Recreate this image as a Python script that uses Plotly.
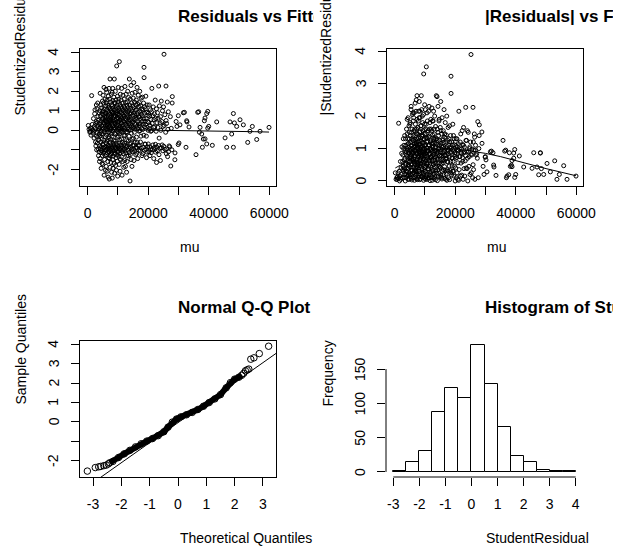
import plotly.graph_objects as go

# layout is expressed in reference-picture pixels (627 x 549); the page is laid out a bit wider
# because the captured page is squeezed horizontally to 627 px.
REF_W, H = 627, 549
CSS_W = 640
FONT = "Liberation Sans, Arial, Helvetica, sans-serif"

# ---------------- data ----------------
# fitted values (mu) and studentized residuals, grouped by mu band
fitted_mu = [
    200, 450, 700, 900, 1300, 1100, 1500, 1700, 1900, 2100, 2300, 2500, 2600, 2800, 2900, 1600, 2200, 2700, 2400, 2950, 800, 1250, 2050, 2650, 2850,
    3050, 3820, 3400, 3610, 3150, 3930, 3280, 3700, 3500, 3090, 3860, 3350, 3640, 3200, 3980, 3450, 3730, 3560, 3900, 3300,
    4120, 4870, 4350, 4600, 4050, 4780, 4230, 4950, 4480, 4310, 4690, 4150, 4820, 4400, 4560, 4010, 4740, 4270, 4910, 4530, 4190, 4650, 4380, 4860, 4090, 4720, 4440, 4980,
    5390, 5080, 5720, 5210, 5950, 5460, 5130, 5840, 5300, 5610, 5020, 5770, 5250, 5530, 5890, 5170, 5680, 5400, 5060, 5810, 5350, 5990, 5120, 5640, 5270, 5930, 5480, 5190, 5750, 5570, 5030, 5860, 5420, 5700,
    6270, 6050, 6830, 6400, 6120, 6690, 6950, 6330, 6560, 6010, 6780, 6210, 6480, 6900, 6150, 6620, 6370, 6860, 6090, 6530, 6740, 6250, 6990, 6440, 6180, 6710, 6300, 6580, 6030, 6800, 6460, 6230, 6920, 6650, 6110, 6390, 6760, 6500,
    7370, 7050, 7810, 7220, 7600, 7930, 7140, 7480, 7700, 7010, 7290, 7880, 7550, 7180, 7650, 7420, 7990, 7090, 7340, 7760, 7510, 7240, 7860, 7030, 7590, 7410, 7720, 7160, 7950, 7310, 7630, 7070, 7840, 7460, 7200, 7680, 7380, 7900, 7120, 7540,
    8790, 8260, 8050, 8610, 8330, 8920, 8140, 8470, 8700, 8010, 8380, 8850, 8560, 8200, 8660, 8420, 8980, 8090, 8310, 8750, 8520, 8230, 8880, 8030, 8590, 8400, 8720, 8170, 8950, 8290, 8630, 8070, 8820, 8450, 8250, 8680, 8350, 8900, 8110, 8540,
    9580, 9120, 9850, 9300, 9040, 9710, 9450, 9190, 9930, 9360, 9620, 9080, 9770, 9510, 9250, 9890, 9020, 9420, 9680, 9160, 9540, 9990, 9280, 9740, 9060, 9470, 9820, 9210, 9600, 9340, 9950, 9100, 9660, 9390, 9800, 9230, 9500, 9900,
    10450, 10120, 10800, 10300, 10050, 10650, 10950, 10220, 10500, 10760, 10080, 10380, 10880, 10160, 10590, 10330, 10990, 10020, 10700, 10420, 10250, 10850, 10540, 10100, 10620, 10360, 10910, 10190, 10480, 10730, 10060, 10560, 10280, 10830, 10400, 10680,
    11200, 11650, 11050, 11480, 11900, 11300, 11750, 11120, 11560, 11980, 11380, 11020, 11820, 11250, 11600, 11430, 11070, 11700, 11340, 11950, 11180, 11520, 11860, 11280, 11040, 11630, 11410, 11780, 11150, 11540, 11920, 11360,
    12300, 12700, 12050, 12500, 12900, 12150, 12600, 12380, 12820, 12020, 12450, 12750, 12230, 12550, 12960, 12100, 12400, 12680, 12270, 12880, 12180, 12520, 12790, 12070, 12340, 12620, 12930, 12200, 12480, 12840,
    13750, 13200, 13500, 13050, 13880, 13350, 13620, 13150, 13950, 13420, 13280, 13700, 13080, 13560, 13820, 13240, 13480, 13010, 13660, 13380, 13910, 13120, 13580, 13300, 13780, 13450, 13030, 13980,
    14300, 14700, 14050, 14500, 14900, 14150, 14600, 14380, 14820, 14020, 14450, 14750, 14230, 14550, 14960, 14100, 14400, 14680, 14270, 14880, 14180, 14520, 14790, 14070, 14340, 14620,
    15200, 15650, 15050, 15480, 15900, 15300, 15750, 15120, 15560, 15980, 15380, 15020, 15820, 15250, 15600, 15430, 15070, 15700, 15340, 15950, 15180, 15520, 15860, 15280,
    16300, 16700, 16050, 16500, 16900, 16150, 16600, 16380, 16820, 16020, 16450, 16750, 16230, 16550, 16960, 16100, 16400, 16680, 16270, 16880, 16180, 16520,
    17200, 17650, 17050, 17480, 17900, 17300, 17750, 17120, 17560, 17980, 17380, 17020, 17820, 17250, 17600, 17430, 17070, 17700, 17340, 17950,
    18600, 18620, 18100, 18450, 18850, 18250, 18700, 18050, 18500, 18950, 18350, 18800, 18150, 18550, 18900, 18300, 18750, 18200,
    19200, 19650, 19050, 19480, 19900, 19300, 19750, 19120, 19560, 19980, 19380, 19020, 19820, 19250, 19600, 19430,
    20300, 20700, 20050, 20500, 20900, 20150, 20600, 20380, 20820, 20020, 20450, 20750, 20230, 20550,
    21200, 21650, 21050, 21480, 21900, 21300, 21750, 21120, 21560, 21980, 21380, 21020, 21820,
    22300, 22700, 22050, 22500, 22900, 22150, 22600, 22380, 22820, 22020, 22450, 22750,
    23460, 23700, 23050, 23300, 23900, 23150, 23600, 23380, 23820, 23020, 23550,
    24300, 24700, 24050, 24500, 24900, 24150, 24600, 24380, 24820, 24020,
    25210, 25870, 25050, 25480, 25900, 25300, 25750, 25120, 25560, 25980,
    26640, 26300, 26050, 26500, 26900, 26150, 26700, 26400,
    27950, 27900, 27300, 27600, 27100, 27800, 27450,
    28840, 28800, 29930, 29900, 30160, 29200, 29500,
    30480, 31950, 31600, 32690, 32800, 33470, 32470, 35780, 36340, 36670,
    37120, 37670, 37890, 38540, 38760, 38760, 39320, 39320, 39650, 39650,
    39980, 41170, 42620, 45380, 45930, 47020, 47570, 48130, 48130, 48460,
    49220, 50320, 51420, 52860, 53600, 54390, 55830, 56930, 59900, 36900,
    38200,
]
student_resid = [
    0.25, 0.05, -0.1, 0.12, 1.78, -0.25, 0.3, -0.15, 0.6, -0.4, 0.85, 0.1, -0.6, 0.45, -0.3, 0.0, 0.2, -0.8, 1.05, -1.0, -0.05, 0.08, -0.05, 0.35, 1.3,
    1.1, 0.9, 0.7, 0.55, 0.4, 0.3, 0.2, 0.1, 0.0, -0.1, -0.2, -0.35, -0.5, -0.65, -0.8, -0.95, -1.1, -1.3, -1.6, 1.4,
    1.9, 1.5, 1.3, 1.15, 1.0, 0.85, 0.75, 0.6, 0.5, 0.38, 0.25, 0.15, 0.05, -0.05, -0.18, -0.3, -0.45, -0.6, -0.72, -0.85, -0.95, -1.05, -1.15, -1.3, -1.45, -1.7, -1.95, 0.95,
    2.2, 1.8, 1.6, 1.4, 1.25, 1.1, 1.0, 0.9, 0.8, 0.7, 0.6, 0.5, 0.42, 0.33, 0.22, 0.12, 0.03, -0.08, -0.2, -0.33, -0.5, -0.62, -0.75, -0.85, -0.92, -1.0, -1.08, -1.18, -1.3, -1.5, -1.75, -2.05, -2.3, 0.65,
    1.95, 2.1, 1.75, 1.55, 1.4, 1.28, 1.15, 1.05, 0.95, 0.85, 0.76, 0.68, 0.6, 0.5, 0.42, 0.35, 0.26, 0.18, 0.1, 0.02, -0.1, -0.25, -0.4, -0.55, -0.68, -0.78, -0.86, -0.93, -1.0, -1.07, -1.15, -1.25, -1.4, -1.6, -1.85, -2.1, -2.4, 0.3,
    2.63, 2.15, 1.85, 1.6, 1.45, 1.32, 1.2, 1.1, 1.0, 0.92, 0.84, 0.75, 0.67, 0.58, 0.5, 0.43, 0.36, 0.28, 0.2, 0.12, 0.04, -0.06, -0.18, -0.32, -0.47, -0.62, -0.74, -0.83, -0.9, -0.97, -1.04, -1.12, -1.2, -1.3, -1.45, -1.65, -1.9, -2.15, -2.5, 0.55,
    2.63, 2.15, 1.95, 1.7, 1.52, 1.38, 1.25, 1.13, 1.03, 0.94, 0.86, 0.78, 0.7, 0.62, 0.54, 0.46, 0.38, 0.3, 0.22, 0.14, 0.06, -0.04, -0.15, -0.3, -0.52, -0.66, -0.76, -0.84, -0.91, -0.98, -1.05, -1.13, -1.22, -1.33, -1.5, -1.7, -1.95, -2.2, -2.45, 0.9,
    3.3, 2.0, 1.75, 1.55, 1.42, 1.3, 1.18, 1.08, 0.98, 0.9, 0.82, 0.74, 0.66, 0.58, 0.5, 0.42, 0.34, 0.26, 0.18, 0.1, 0.02, -0.08, -0.2, -0.35, -0.55, -0.68, -0.78, -0.86, -0.93, -1.0, -1.08, -1.17, -1.27, -1.4, -1.58, -1.8, -2.05, -2.35,
    3.52, 2.2, 1.85, 1.6, 1.45, 1.33, 1.22, 1.12, 1.02, 0.93, 0.85, 0.77, 0.69, 0.61, 0.53, 0.45, 0.37, 0.29, 0.21, 0.13, 0.05, -0.05, -0.17, -0.3, -0.5, -0.65, -0.76, -0.85, -0.93, -1.01, -1.1, -1.2, -1.33, -1.5, -1.75, -2.1,
    2.15, 1.8, 1.55, 1.38, 1.24, 1.12, 1.01, 0.91, 0.82, 0.73, 0.64, 0.55, 0.46, 0.37, 0.28, 0.19, 0.1, 0.01, -0.1, -0.25, -0.45, -0.62, -0.74, -0.84, -0.92, -1.0, -1.09, -1.2, -1.35, -1.6, -1.9, -2.3,
    2.25, 1.85, 1.6, 1.42, 1.28, 1.15, 1.03, 0.92, 0.82, 0.72, 0.62, 0.52, 0.42, 0.32, 0.22, 0.12, 0.02, -0.1, -0.28, -0.5, -0.66, -0.78, -0.88, -0.97, -1.06, -1.17, -1.32, -1.55, -1.85, -2.15,
    2.63, 2.0, 1.68, 1.45, 1.3, 1.17, 1.05, 0.94, 0.84, 0.74, 0.64, 0.54, 0.44, 0.34, 0.24, 0.14, 0.04, -0.08, -0.3, -0.55, -0.7, -0.82, -0.92, -1.02, -1.14, -1.3, -1.6, -2.6,
    2.3, 1.9, 1.6, 1.4, 1.25, 1.12, 1.0, 0.89, 0.78, 0.67, 0.56, 0.45, 0.34, 0.23, 0.12, 0.01, -0.15, -0.45, -0.65, -0.78, -0.88, -0.98, -1.1, -1.25, -1.5, -1.85,
    2.45, 1.95, 1.65, 1.45, 1.3, 1.16, 1.03, 0.9, 0.78, 0.66, 0.54, 0.42, 0.3, 0.18, 0.06, -0.1, -0.4, -0.62, -0.76, -0.87, -0.97, -1.08, -1.25, -1.55,
    2.2, 1.8, 1.55, 1.35, 1.2, 1.06, 0.93, 0.8, 0.68, 0.56, 0.44, 0.32, 0.2, 0.08, -0.05, -0.35, -0.62, -0.78, -0.9, -1.02, -1.18, -1.45,
    2.0, 1.65, 1.42, 1.25, 1.1, 0.96, 0.83, 0.7, 0.58, 0.46, 0.34, 0.22, 0.1, -0.02, -0.3, -0.6, -0.78, -0.92, -1.06, -1.3,
    3.23, 2.7, 1.7, 1.4, 1.2, 1.03, 0.88, 0.74, 0.6, 0.46, 0.32, 0.18, 0.04, -0.25, -0.7, -0.88, -1.02, -1.2,
    1.75, 1.3, 1.1, 0.92, 0.76, 0.6, 0.45, 0.3, 0.15, 0.0, -0.3, -0.72, -0.86, -0.98, -1.12, -1.4,
    1.3, 1.05, 0.88, 0.72, 0.56, 0.4, 0.25, 0.1, -0.05, -0.7, -0.85, -0.97, -1.1, -1.3,
    2.15, 1.2, 0.95, 0.75, 0.55, 0.35, 0.15, -0.02, -0.75, -0.88, -1.0, -1.15, -1.45,
    1.55, 1.1, 0.85, 0.6, 0.38, 0.18, -0.05, -0.72, -0.86, -0.98, -1.12, -1.65,
    2.27, 1.25, 0.9, 0.62, 0.38, 0.15, -0.4, -0.78, -0.92, -1.05, -1.25,
    1.5, 1.0, 0.7, 0.45, 0.2, 0.0, -0.75, -0.9, -1.05, -1.55,
    3.9, 2.27, 1.2, 0.8, 0.5, 0.25, -0.1, -0.82, -0.98, -1.2,
    0.95, 1.45, 0.35, 0.05, -0.8, -0.95, -1.1, -1.35,
    1.73, 1.4, 0.7, 0.1, -0.85, -1.0, -1.83,
    -1.16, -1.51, 0.75, -0.73, -0.65, 0.45, 0.2,
    0.28, 0.92, 0.9, 0.49, 0.43, 0.17, -0.87, -1.25, 0.92, 0.95,
    0.15, -0.19, -0.87, 0.49, 0.63, -0.44, 0.86, -0.70, 0.97, 0.11,
    0.2, -0.77, 0.43, -0.39, -0.87, 0.43, -0.19, 0.86, -0.87, 0.38,
    0.2, 0.54, 0.28, -0.62, -0.05, 0.2, -0.47, -0.05, 0.15, -0.1,
    -0.45,
]
assert len(fitted_mu) == len(student_resid)

# smoother through residuals vs fitted
lowess_mu = [200, 5000, 10000, 15000, 20000, 25000, 30000, 35000, 40000, 45000, 50000, 55000, 59900]
lowess_resid = [0.0, 0.02, 0.03, 0.02, 0.01, 0.01, 0.01, 0.0, -0.01, -0.03, -0.05, -0.07, -0.09]
# smoother through |residuals| vs fitted
lowess_abs_mu = [200, 3000, 6000, 9000, 12000, 15000, 18000, 21000, 25000, 30000, 35000, 40000, 45000, 50000, 55000, 59900]
lowess_abs_resid = [0.4, 0.55, 0.7, 0.82, 0.92, 0.98, 1.0, 0.98, 0.93, 0.85, 0.75, 0.62, 0.5, 0.38, 0.27, 0.16]

# normal Q-Q plot
qq_low_theoretical = [-3.2, -2.92, -2.8, -2.73, -2.62, -2.53, -2.46]
qq_low_sample = [-2.55, -2.37, -2.33, -2.31, -2.27, -2.24, -2.18]
qq_body_theoretical = [-2.41, -2.3, -2.1, -1.9, -1.7, -1.5, -1.3, -1.1, -0.9, -0.7, -0.5, -0.35, -0.2, -0.05, 0.1,
                       0.3, 0.5, 0.7, 0.9, 1.1, 1.3, 1.5, 1.7, 1.85, 2.0, 2.15, 2.25]
qq_body_sample = [-2.12, -2.05, -1.85, -1.66, -1.48, -1.3, -1.14, -1.0, -0.87, -0.72, -0.52, -0.28, -0.02, 0.14, 0.25,
                  0.36, 0.48, 0.63, 0.8, 0.99, 1.18, 1.4, 1.75, 2.02, 2.2, 2.3, 2.4]
qq_high_theoretical = [2.32, 2.38, 2.44, 2.5, 2.57, 2.68, 2.87, 3.2]
qq_high_sample = [2.5, 2.63, 2.68, 2.72, 3.23, 3.3, 3.52, 3.9]
qq_line_intercept = -0.05
qq_line_slope = 1.034

# histogram of studentized residuals
hist_breaks = [-3.0, -2.5, -2.0, -1.5, -1.0, -0.5, 0.0, 0.5, 1.0, 1.5, 2.0, 2.5, 3.0, 3.5, 4.0]
hist_counts = [1, 14, 31, 88, 122, 108, 185, 128, 66, 23, 14, 3, 2, 2]

# tick labels
mu_ticks = [0, 10000, 20000, 30000, 40000, 50000, 60000]
mu_ticktext = ["0", "", "20000", "", "40000", "", "60000"]
resid_ticks = [-2, -1, 0, 1, 2, 3, 4]
resid_ticktext = ["-2", "", "0", "1", "2", "3", "4"]
abs_ticks = [0, 1, 2, 3, 4]
abs_ticktext = ["0", "1", "2", "3", "4"]
theo_ticks = [-3, -2, -1, 0, 1, 2, 3]
theo_ticktext = ["-3", "-2", "-1", "0", "1", "2", "3"]
hist_xticks = [-3, -2, -1, 0, 1, 2, 3, 4]
hist_xticktext = ["-3", "-2", "-1", "0", "1", "2", "3", "4"]
freq_ticks = [0, 50, 100, 150]
freq_ticktext = ["0", "50", "100", "150"]


# ---------------- figure ----------------
def fx(p):
    return p / REF_W


def fy(p):
    return 1 - p / H


pt_marker = dict(symbol="circle-open", size=4, color="black", line=dict(width=1, color="black"))
qq_marker = dict(symbol="circle-open", size=6.5, color="black", line=dict(width=1, color="black"))
thin = dict(color="black", width=1)
title_font = dict(family=FONT, size=17, color="black", weight="bold")

fig = go.Figure()

# Panel 1: residuals vs fitted
fig.add_trace(go.Scatter(x=fitted_mu, y=student_resid, mode="markers", marker=pt_marker,
                         xaxis="x", yaxis="y", hoverinfo="skip"))
fig.add_trace(go.Scatter(x=lowess_mu, y=lowess_resid, mode="lines", line=thin,
                         xaxis="x", yaxis="y", hoverinfo="skip"))

# Panel 2: |residuals| vs fitted
abs_resid = [abs(v) for v in student_resid]
fig.add_trace(go.Scatter(x=fitted_mu, y=abs_resid, mode="markers", marker=pt_marker,
                         xaxis="x2", yaxis="y2", hoverinfo="skip"))
fig.add_trace(go.Scatter(x=lowess_abs_mu, y=lowess_abs_resid, mode="lines", line=thin,
                         xaxis="x2", yaxis="y2", hoverinfo="skip"))

# Panel 3: normal Q-Q
QQ_XR = [-3.46, 3.46]
fig.add_trace(go.Scatter(x=qq_body_theoretical, y=qq_body_sample, mode="lines",
                         line=dict(color="black", width=6), xaxis="x3", yaxis="y3", hoverinfo="skip"))
fig.add_trace(go.Scatter(x=qq_low_theoretical + qq_body_theoretical + qq_high_theoretical,
                         y=qq_low_sample + qq_body_sample + qq_high_sample,
                         mode="markers", marker=qq_marker, xaxis="x3", yaxis="y3", hoverinfo="skip"))
fig.add_trace(go.Scatter(x=QQ_XR, y=[qq_line_intercept + qq_line_slope * v for v in QQ_XR],
                         mode="lines", line=thin, xaxis="x3", yaxis="y3", hoverinfo="skip"))

# Panel 4: histogram
centers = [(a + b) / 2 for a, b in zip(hist_breaks[:-1], hist_breaks[1:])]
widths = [b - a for a, b in zip(hist_breaks[:-1], hist_breaks[1:])]
fig.add_trace(go.Bar(x=centers, y=hist_counts, width=widths,
                     marker=dict(color="white", line=dict(color="black", width=1)),
                     xaxis="x4", yaxis="y4", hoverinfo="skip"))

# titles, clipped at the figure-region edge as R does
fig.add_trace(go.Scatter(x=[178, 178], y=[17.5, 308.5], text=["Residuals vs Fitted", "Normal Q-Q Plot"],
                         mode="text", textposition="middle right", cliponaxis=True, textfont=title_font,
                         xaxis="x5", yaxis="y5", hoverinfo="skip"))
fig.add_trace(go.Scatter(x=[485, 485], y=[17.5, 308.5],
                         text=["|Residuals| vs Fitted", "Histogram of StudentResidual"],
                         mode="text", textposition="middle right", cliponaxis=True, textfont=title_font,
                         xaxis="x6", yaxis="y6", hoverinfo="skip"))

tickfont = dict(family=FONT, size=14, color="black")
common = dict(showgrid=False, zeroline=False, ticks="outside", ticklen=8, tickwidth=1, tickcolor="black",
              tickfont=tickfont, linecolor="black", linewidth=1, tickmode="array", fixedrange=True)
boxed = dict(showline=True, mirror=True)
XSO = 6

fig.update_layout(
    width=CSS_W, height=H, autosize=False,
    margin=dict(l=0, r=0, t=0, b=0),
    paper_bgcolor="white", plot_bgcolor="rgba(0,0,0,0)",
    showlegend=False, bargap=0,
    font=dict(family=FONT, size=14, color="black"),
    xaxis=dict(domain=[fx(80), fx(276)], range=[-2544, 62207], anchor="y",
               tickvals=mu_ticks, ticktext=mu_ticktext, ticklabelstandoff=XSO, **common, **boxed),
    yaxis=dict(domain=[fy(186), fy(49)], range=[-2.856, 4.17], anchor="x",
               tickvals=resid_ticks, showticklabels=False, **common, **boxed),
    xaxis2=dict(domain=[fx(387), fx(583)], range=[-2544, 62207], anchor="y2",
                tickvals=mu_ticks, ticktext=mu_ticktext, ticklabelstandoff=XSO, **common, **boxed),
    yaxis2=dict(domain=[fy(186), fy(49)], range=[-0.156, 4.07], anchor="x2",
                tickvals=abs_ticks, showticklabels=False, **common, **boxed),
    xaxis3=dict(domain=[fx(80), fx(276)], range=QQ_XR, anchor="y3",
                tickvals=theo_ticks, ticktext=theo_ticktext, ticklabelstandoff=XSO, **common, **boxed),
    yaxis3=dict(domain=[fy(477), fy(341)], range=[-2.856, 4.17], anchor="x3",
                tickvals=resid_ticks, showticklabels=False, **common, **boxed),
    xaxis4=dict(domain=[fx(386), fx(583)], range=[-3.28, 4.28], anchor="y4",
                tickvals=hist_xticks, ticktext=hist_xticktext, ticklabelstandoff=XSO, showline=False, **common),
    yaxis4=dict(domain=[fy(477), fy(340)], range=[-7.4, 192.4], anchor="x4",
                tickvals=freq_ticks, showticklabels=False, showline=False, **common),
    xaxis5=dict(domain=[0, fx(313.5)], range=[0, 313.5], anchor="y5", visible=False, fixedrange=True),
    yaxis5=dict(domain=[0, 1], range=[H, 0], anchor="x5", visible=False, fixedrange=True),
    xaxis6=dict(domain=[fx(313.5), fx(613)], range=[313.5, 613], anchor="y6", visible=False, fixedrange=True),
    yaxis6=dict(domain=[0, 1], range=[H, 0], anchor="x6", visible=False, fixedrange=True),
)

# R-style axis lines for the histogram (span first..last tick only)
fig.add_shape(type="line", xref="x4", yref="y4 domain", x0=hist_xticks[0], x1=hist_xticks[-1], y0=0, y1=0,
              line=thin)
fig.add_shape(type="line", xref="x4 domain", yref="y4", x0=0, x1=0, y0=freq_ticks[0], y1=freq_ticks[-1],
              line=thin)


# vertical (rotated) y tick labels placed on each y axis' own scale
def ytick_labels(yref, vals, texts, xpx):
    for v, t in zip(vals, texts):
        if t:
            fig.add_annotation(text=t, x=fx(xpx), y=v, xref="paper", yref=yref, showarrow=False,
                               xanchor="center", yanchor="middle", textangle=-90, font=tickfont)


ytick_labels("y", resid_ticks, resid_ticktext, 53.5)
ytick_labels("y2", abs_ticks, abs_ticktext, 360.5)
ytick_labels("y3", resid_ticks, resid_ticktext, 53.5)
ytick_labels("y4", freq_ticks, freq_ticktext, 360)


def label(text, x, y, xanchor="left", yanchor="middle", angle=0, size=14):
    fig.add_annotation(text=text, x=fx(x), y=fy(y), xref="paper", yref="paper", showarrow=False,
                       xanchor=xanchor, yanchor=yanchor, textangle=angle,
                       font=dict(family=FONT, size=size, color="black"))


# axis labels
label("mu", 178, 247)
label("mu", 484.5, 247)
label("Theoretical Quantiles", 178, 538)
label("StudentResidual", 484, 538)
label("StudentizedResidual", 20, 117.5, xanchor="center", yanchor="bottom", angle=-90)
label("|StudentizedResidual|", 326, 117.5, xanchor="center", yanchor="bottom", angle=-90)
label("Sample Quantiles", 20, 407, xanchor="center", yanchor="bottom", angle=-90)
label("Frequency", 327, 408.5, xanchor="center", yanchor="bottom", angle=-90)

fig.write_html("out.html", config={"displayModeBar": False},
               post_script="document.body.style.margin='0';document.body.style.overflow='hidden';"
                           "document.documentElement.style.overflow='hidden';")
